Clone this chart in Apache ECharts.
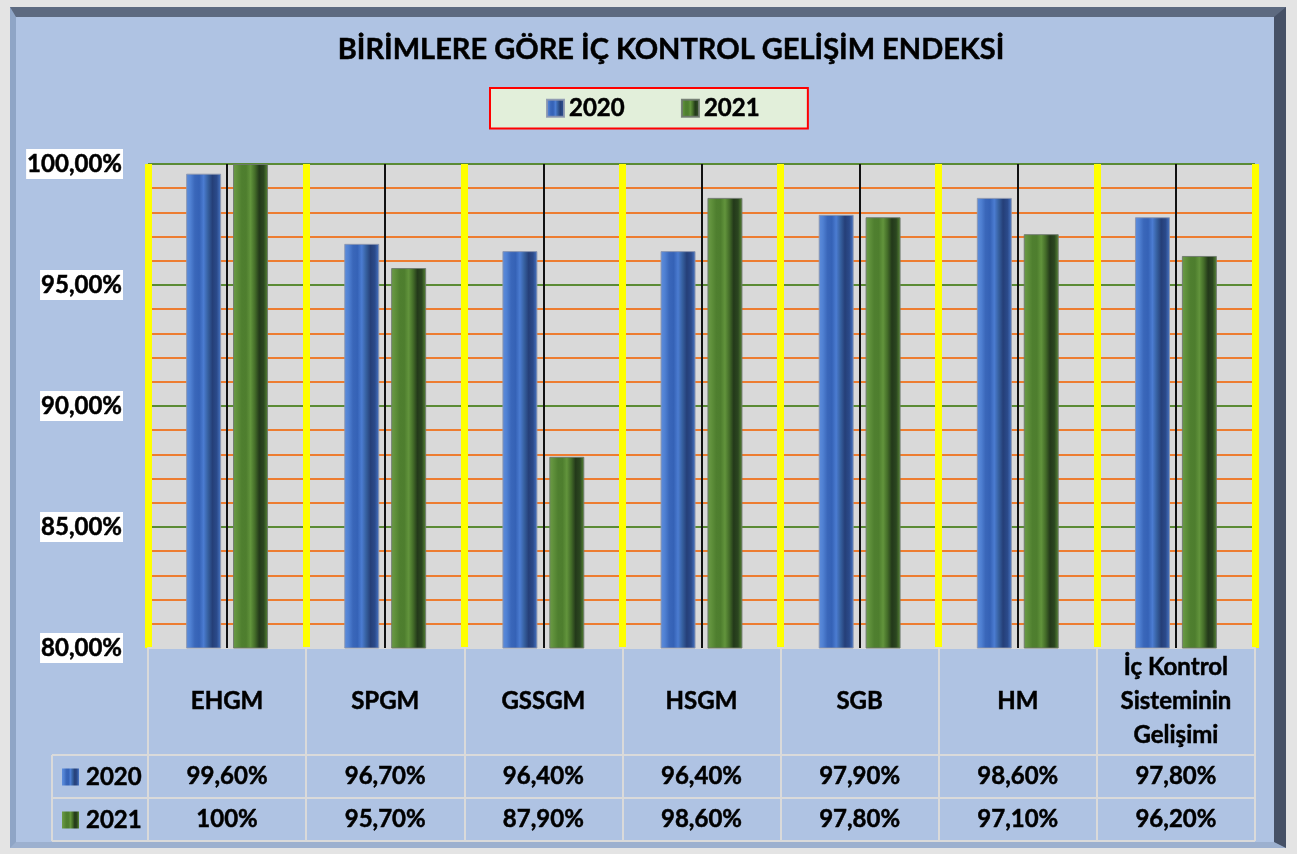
<!DOCTYPE html>
<html><head><meta charset="utf-8">
<script src="https://cdn.jsdelivr.net/npm/echarts@6/dist/echarts.min.js"></script>
<style>
html,body{margin:0;padding:0;background:#e4e4e4;width:1297px;height:854px;overflow:hidden;}
#frame{position:absolute;left:10px;top:7px;width:1276px;height:841px;box-sizing:border-box;border-style:solid;border-width:10px 12px 6px 6px;border-color:#5d6a80 #465166 #9cb0cf #8fa5c6;background:#afc3e3;}
#chart{position:absolute;left:0;top:0;width:1297px;height:854px;}
</style></head><body>
<div id="frame"></div><div id="chart"></div>
<script>
const titleText = 'BİRİMLERE GÖRE İÇ KONTROL GELİŞİM ENDEKSİ';
const categories = ['EHGM','SPGM','GSSGM','HSGM','SGB','HM','İç Kontrol\nSisteminin\nGelişimi'];
const seriesNames = ['2020','2021'];
const values2020 = [99.6,96.7,96.4,96.4,97.9,98.6,97.8];
const values2021 = [100,95.7,87.9,98.6,97.8,97.1,96.2];
const yMin = 80, yMax = 100, yStep = 5;

const FONT = 'Lato';
const FW = 'bold';
const STROKE = {textBorderColor:'#000', textBorderWidth:0.5};
const GL = 148, GR = 1255, GT = 164, GB = 648;
const ROW1 = 755, ROW2 = 798, ROW3 = 841, TL = 52;

function pct(v){ return Number.isInteger(v) ? v + '%' : v.toFixed(2).replace('.', ',') + '%'; }
function grad(stops){ return new echarts.graphic.LinearGradient(0,0,1,0, stops.map((c,i)=>({offset:i/(stops.length-1), color:c}))); }
const blueGrad = () => grad(['#5f8edc','#4f80d2','#3a67ba','#3562b6','#4b7cd1','#36609f','#253f78','#2b4a8a','#4a78c8']);
const greenGrad = () => grad(['#6d9c48','#5e8f3a','#4f7f2f','#4e7e2e','#62943c','#446d29','#23391a','#2b4620','#5a8a36']);

const chart = echarts.init(document.getElementById('chart'), null, {renderer:'canvas'});
const labelAxis = (vals, margin) => ({
  type:'category', data:categories, position:'bottom', gridIndex:0,
  axisLine:{show:false}, axisTick:{show:false}, splitLine:{show:false},
  axisLabel:Object.assign({margin:margin, verticalAlign:'middle', interval:0, fontFamily:FONT, fontWeight:FW, fontSize:24, color:'#000',
    formatter:(v,i)=>pct(vals[i])}, STROKE)
});
chart.setOption({
  backgroundColor:'transparent',
  animation:false,
  title:{text:titleText, left:666, top:30, textAlign:'center',
    textStyle:Object.assign({fontFamily:FONT, fontWeight:FW, fontSize:29, color:'#000'}, STROKE)},
  legend:{data:seriesNames, left:490, top:88, padding:[8,48,8,56], itemGap:56, itemWidth:17, itemHeight:17,
    backgroundColor:'#e2efda', borderColor:'#ff0000', borderWidth:2, borderRadius:0, icon:'rect',
    textStyle:Object.assign({fontFamily:FONT, fontWeight:FW, fontSize:24, color:'#000'}, STROKE)},
  grid:{left:GL, top:GT, width:GR-GL, height:GB-GT, show:true, backgroundColor:'#d9d9d9', borderWidth:0, containLabel:false},
  xAxis:[{
    type:'category', data:categories, position:'bottom',
    axisLine:{show:true, lineStyle:{color:'#d9d9d9', width:2}},
    axisTick:{show:true, length:ROW3-GB, inside:false, lineStyle:{color:'#dadada', width:2}},
    splitLine:{show:true, lineStyle:{color:'#ffff00', width:7}},
    axisLabel:Object.assign({margin:53, verticalAlign:'middle', interval:0, fontFamily:FONT, fontWeight:FW, fontSize:24, lineHeight:34, color:'#000'}, STROKE)
  }, labelAxis(values2020, ROW1-GB+21), labelAxis(values2021, ROW2-GB+21)],
  yAxis:{type:'value', min:yMin, max:yMax, interval:yStep,
    axisLine:{show:false}, axisTick:{show:false},
    splitLine:{show:true, lineStyle:{color:'#5b8b35', width:2}},
    minorTick:{show:false, splitNumber:5},
    minorSplitLine:{show:true, lineStyle:{color:'#ed7d31', width:2}},
    axisLabel:Object.assign({margin:25, fontFamily:FONT, fontWeight:FW, fontSize:24, color:'#000', backgroundColor:'#ffffff', padding:[4,1,2,1],
      formatter:v=>v.toFixed(2).replace('.', ',') + '%'}, STROKE)},
  series:[
    {name:seriesNames[0], type:'bar', data:values2020, barWidth:35, barGap:'34%', xAxisIndex:0,
      itemStyle:{color:blueGrad(), borderColor:'rgba(140,150,175,0.9)', borderWidth:1}},
    {name:seriesNames[1], type:'bar', data:values2021, barWidth:35, xAxisIndex:0,
      itemStyle:{color:greenGrad(), borderColor:'rgba(110,120,110,0.9)', borderWidth:1}},
    {name:'centers', type:'line', data:[], xAxisIndex:0, silent:true, legendHoverLink:false,
      markLine:{silent:true, symbol:['none','none'], label:{show:false}, animation:false,
        lineStyle:{color:'#111', width:2, type:'solid'}, emphasis:{disabled:true},
        data:categories.map((c,i)=>({xAxis:i}))}}
  ],
  graphic:[
    {type:'line', shape:{x1:TL, y1:ROW1, x2:GR, y2:ROW1}, style:{stroke:'#dadada', lineWidth:2}},
    {type:'line', shape:{x1:TL, y1:ROW2, x2:GR, y2:ROW2}, style:{stroke:'#dadada', lineWidth:2}},
    {type:'line', shape:{x1:TL, y1:ROW3, x2:GR, y2:ROW3}, style:{stroke:'#dadada', lineWidth:2}},
    {type:'line', shape:{x1:TL, y1:ROW1, x2:TL, y2:ROW3}, style:{stroke:'#dadada', lineWidth:2}},
    {type:'rect', shape:{x:62, y:(ROW1+ROW2)/2-8, width:17, height:17}, style:{fill:blueGrad()}},
    {type:'rect', shape:{x:62, y:(ROW2+ROW3)/2-8, width:17, height:17}, style:{fill:greenGrad()}},
    {type:'text', x:86, y:(ROW1+ROW2)/2+1, style:{text:seriesNames[0], fontFamily:FONT, fontWeight:FW, fontSize:24, fill:'#000', stroke:'#000', lineWidth:0.5, verticalAlign:'middle'}},
    {type:'text', x:86, y:(ROW2+ROW3)/2+1, style:{text:seriesNames[1], fontFamily:FONT, fontWeight:FW, fontSize:24, fill:'#000', stroke:'#000', lineWidth:0.5, verticalAlign:'middle'}}
  ]
});
</script></body></html>
